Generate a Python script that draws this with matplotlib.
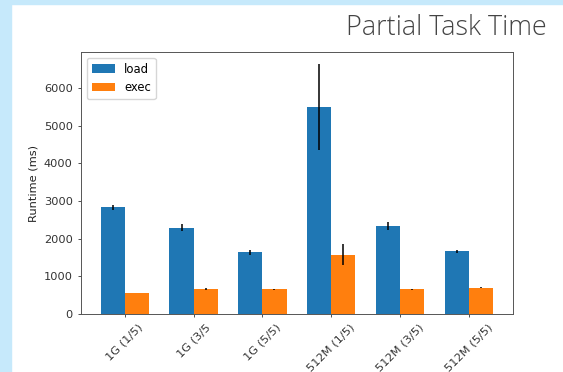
import matplotlib
matplotlib.use("Agg")
import matplotlib.pyplot as plt
import numpy as np

# runtime per configuration, mean and std (ms)
configs = ["1G (1/5)", "1G (3/5", "1G (5/5)", "512M (1/5)", "512M (3/5)", "512M (5/5)"]
load_mean = [2830, 2290, 1640, 5480, 2330, 1660]
load_std = [70, 95, 65, 1140, 110, 50]
exec_mean = [557, 663, 655, 1575, 655, 698]
exec_std = [10, 18, 15, 280, 18, 18]

fig = plt.figure(figsize=(5.63, 3.72), dpi=100)

# light blue slide border on the left and top
fig.patches.append(plt.Rectangle((0, 0), 11 / 563, 1, transform=fig.transFigure,
                                 color="#c6e9fb", zorder=0))
fig.patches.append(plt.Rectangle((0, 1 - 4 / 372), 1, 4 / 372, transform=fig.transFigure,
                                 color="#c6e9fb", zorder=0))

fig.text(0.9716, 0.906, "Partial Task Time", ha="right", va="baseline",
         fontsize=19.4, family="Open Sans", weight="light", color="#444444")

ax = fig.add_axes([0.1439, 0.1559, 0.7668, 0.7043])

ind = np.arange(len(configs))
width = 0.35
ekw = dict(elinewidth=1.1, ecolor="black")
ax.bar(ind - width / 2, load_mean, width, yerr=load_std, color="#1f77b4",
       label="load", error_kw=ekw)
ax.bar(ind + width / 2, exec_mean, width, yerr=exec_std, color="#ff7f0e",
       label="exec", error_kw=ekw)

ax.set_ylabel("Runtime (ms)", fontsize=8.2, color="#222222")
ax.set_xticks(ind)
ax.set_xticklabels(configs, rotation=45)
ax.tick_params(labelsize=8.2, length=2.5, width=0.6, colors="#333333")
for s in ax.spines.values():
    s.set_linewidth(0.7)
    s.set_color("#555555")

ax.legend(loc="upper left", fontsize=8.4)

fig.savefig("out.png", dpi=100)
